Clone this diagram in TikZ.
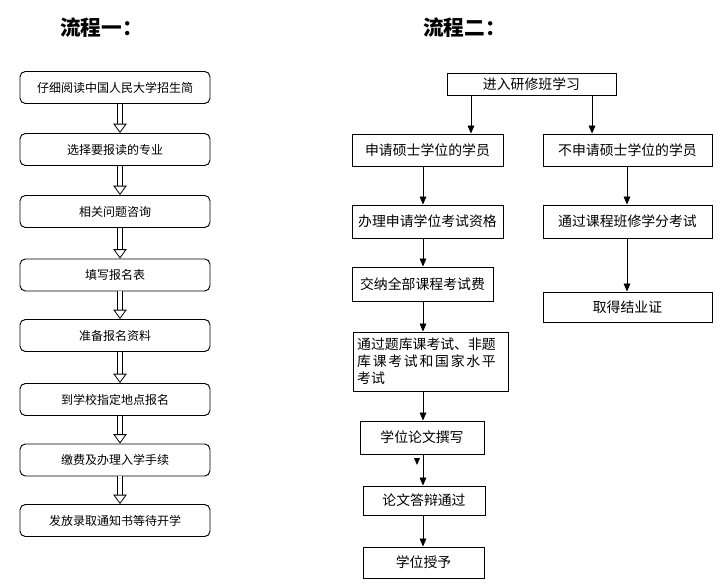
\documentclass[tikz,border=0pt]{standalone}
\usepackage{fontspec}
\setmainfont{Noto Sans CJK SC}
\usepackage{tikz}
\usetikzlibrary{arrows.meta}

\tikzset{
  stepone/.style={draw, line width=0.7pt, rounded corners=4pt, inner sep=0pt,
    minimum width=142.5pt, minimum height=24pt, font=\fontsize{9}{11}\selectfont},
  steptwo/.style={draw, line width=0.7pt, inner sep=0pt, font=\fontsize{10.4}{12.75}\selectfont},
  dblarrow/.style={double, double distance=3pt, line width=0.6pt,
    -{Triangle[open,width=10pt,length=7pt]}},
  arr/.style={line width=0.6pt, -{Triangle[width=5pt,length=6pt]}},
  titletext/.style={anchor=west, inner sep=0pt, font=\fontsize{15.5}{18}\selectfont\bfseries}
}

\begin{document}
\begin{tikzpicture}[x=0.75pt,y=0.75pt,yscale=-1,xscale=1]
        \useasboundingbox (0,0) rectangle (720,585);
        % Titles
        \node[titletext] (t1) at (60,28) {流程一：};
        \node[titletext] (t2) at (423,28) {流程二：};
        % Flow one
        \node[stepone] (l1) at (115,87.5) {仔细阅读中国人民大学招生简};
        \node[stepone] (l2) at (115,149.5) {选择要报读的专业};
        \node[stepone] (l3) at (115,211.5) {相关问题咨询};
        \node[stepone] (l4) at (115,275) {填写报名表};
        \node[stepone] (l5) at (115,335.5) {准备报名资料};
        \node[stepone] (l6) at (115,399.5) {到学校指定地点报名};
        \node[stepone] (l7) at (115,460) {缴费及办理入学手续};
        \node[stepone] (l8) at (115,520.5) {发放录取通知书等待开学};
        % Double arrows
        \draw[dblarrow] ([xshift=3.75pt]l1.south) -- ([xshift=3.75pt]l2.north);
        \draw[dblarrow] ([xshift=3.75pt]l2.south) -- ([xshift=3.75pt]l3.north);
        \draw[dblarrow] ([xshift=3.75pt]l3.south) -- ([xshift=3.75pt]l4.north);
        \draw[dblarrow] ([xshift=3.75pt]l4.south) -- ([xshift=3.75pt]l5.north);
        \draw[dblarrow] ([xshift=3.75pt]l5.south) -- ([xshift=3.75pt]l6.north);
        \draw[dblarrow] ([xshift=3.75pt]l6.south) -- ([xshift=3.75pt]l7.north);
        \draw[dblarrow] ([xshift=3.75pt]l7.south) -- ([xshift=3.75pt]l8.north);
        % Flow two
        \node[steptwo, minimum width=126.75pt, minimum height=16.5pt] (top) at (531.5,84) {进入研修班学习};
        \node[steptwo, minimum width=113.25pt, minimum height=24pt] (s1) at (427.5,150) {申请硕士学位的学员};
        \node[steptwo, minimum width=126.75pt, minimum height=24pt] (n1) at (627.5,150) {不申请硕士学位的学员};
        \node[steptwo, minimum width=113.25pt, minimum height=24.75pt] (s2) at (427.5,221.5) {办理申请学位考试资格};
        \node[steptwo, minimum width=126.75pt, minimum height=24.75pt] (n2) at (627.5,221.5) {通过课程班修学分考试};
        \node[steptwo, minimum width=105.75pt, minimum height=25.5pt] (s3) at (422.5,284) {交纳全部课程考试费};
        \node[steptwo, minimum width=126.75pt, minimum height=22.5pt] (n3) at (627.5,307) {取得结业证};
        \node[steptwo, minimum width=116.25pt, minimum height=44.25pt, text width=110pt, align=left] (s4) at (430.5,361.5)
            {通过题库课考试、非题\\\makebox[104pt][l]{库\hfill 课\hfill 考\hfill 试\hfill 和\hfill 国\hfill 家\hfill 水\hfill 平}\\考试};
        \node[steptwo, minimum width=93pt, minimum height=24.75pt] (s5) at (422,437.5) {学位论文撰写};
        \node[steptwo, minimum width=91.5pt, minimum height=21.75pt] (s6) at (424,500.5) {论文答辩通过};
        \node[steptwo, minimum width=90.75pt, minimum height=23.25pt] (s7) at (423.5,562.5) {学位授予};
        % Column lines
        \coordinate (colL) at (423,0);
        \coordinate (colR) at (627,0);
        % Arrows
        \draw[arr] ([xshift=-45.4pt]top.south) -- ([xshift=-45.4pt]top.south |- s1.north);
        \draw[arr] ([xshift=45.4pt]top.south) -- ([xshift=45.4pt]top.south |- n1.north);
        \draw[arr] (s1.south -| colL) -- (s2.north -| colL);
        \draw[arr] (s2.south -| colL) -- (s3.north -| colL);
        \draw[arr] (s3.south -| colL) -- (s4.north -| colL);
        \draw[arr] (s4.south -| colL) -- (s5.north -| colL);
        \draw[arr] (s5.south -| colL) -- (s6.north -| colL);
        \draw[arr] (s6.south -| colL) -- (s7.north -| colL);
        \draw[arr] (n1.south -| colR) -- (n2.north -| colR);
        \draw[arr] (n2.south -| colR) -- (n3.north -| colR);
        % Stray arrowhead
        \fill (414,458) -- (420,458) -- (417,465) -- cycle;
\end{tikzpicture}
\end{document}
